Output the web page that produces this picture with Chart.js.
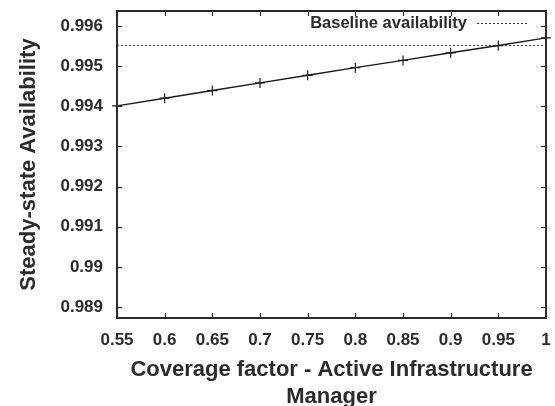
<!DOCTYPE html>
<html>
<head>
<meta charset="utf-8">
<script src="https://cdn.jsdelivr.net/npm/chart.js@4.4.1/dist/chart.umd.min.js"></script>
<style>
  html, body { margin: 0; padding: 0; background: #fff; }
  #wrap { width: 555px; height: 406px; position: relative; }
</style>
</head>
<body>
<div id="wrap"><canvas id="c"></canvas></div>
<script>
// Coverage factor of the Active Infrastructure Manager (x) and resulting availability
const coverage = [0.55, 0.6, 0.65, 0.7, 0.75, 0.8, 0.85, 0.9, 0.95, 1.0];
const availability = [0.99401, 0.99420, 0.99439, 0.99458, 0.99477, 0.99496, 0.99514, 0.99533, 0.99551, 0.99570];
const baselineAvailability = 0.99551;

const xTicks = [0.55, 0.6, 0.65, 0.7, 0.75, 0.8, 0.85, 0.9, 0.95, 1.0];
const xTickLabels = ['0.55', '0.6', '0.65', '0.7', '0.75', '0.8', '0.85', '0.9', '0.95', '1'];
const yTicks = [0.989, 0.990, 0.991, 0.992, 0.993, 0.994, 0.995, 0.996];
const yTickLabels = ['0.989', '0.99', '0.991', '0.992', '0.993', '0.994', '0.995', '0.996'];

const INK = '#2b2b2b';
const FONT = "'Liberation Sans', Arial, Helvetica, sans-serif";

// Frame around the plot with inward tick marks on all four sides
const framePlugin = {
  id: 'frame',
  afterDatasetsDraw(chart) {
    const { ctx, chartArea: a, scales } = chart;
    const len = 5;
    ctx.save();
    ctx.strokeStyle = INK;
    ctx.lineWidth = 1.2;
    ctx.beginPath();
    scales.x.ticks.forEach(t => {
      const px = Math.round(scales.x.getPixelForValue(t.value)) + 0.5;
      ctx.moveTo(px, a.bottom); ctx.lineTo(px, a.bottom - len);
      ctx.moveTo(px, a.top); ctx.lineTo(px, a.top + len);
    });
    scales.y.ticks.forEach(t => {
      const py = Math.round(scales.y.getPixelForValue(t.value)) + 0.5;
      ctx.moveTo(a.left, py); ctx.lineTo(a.left + len, py);
      ctx.moveTo(a.right, py); ctx.lineTo(a.right - len, py);
    });
    ctx.stroke();
    ctx.lineWidth = 2;
    ctx.strokeRect(a.left, a.top, a.right - a.left, a.bottom - a.top);
    ctx.restore();
  }
};

// Key in the top-right corner of the plot for the baseline dataset
const keyPlugin = {
  id: 'key',
  afterDraw(chart) {
    const { ctx, chartArea: a } = chart;
    const ds = chart.data.datasets[1];
    const y = a.top + 12;
    const x1 = a.right - 19, x0 = x1 - 50;
    ctx.save();
    ctx.font = `bold 16.5px ${FONT}`;
    ctx.fillStyle = INK;
    ctx.textAlign = 'right';
    ctx.textBaseline = 'middle';
    ctx.fillText(ds.label, x0 - 10, y);
    ctx.strokeStyle = ds.borderColor;
    ctx.lineWidth = 1;
    ctx.setLineDash(ds.borderDash);
    ctx.beginPath();
    ctx.moveTo(x0, y + 0.5); ctx.lineTo(x1, y + 0.5);
    ctx.stroke();
    ctx.restore();
  }
};

// Keep the plot box fixed: no extra room for overhanging end labels
const noEdgePadding = s => {
  s.paddingTop = 0; s.paddingBottom = 0; s.paddingLeft = 0; s.paddingRight = 0;
};

new Chart(document.getElementById('c'), {
  type: 'scatter',
  data: {
    datasets: [
      {
        label: 'Active Infrastructure Manager',
        data: coverage.map((x, i) => ({ x, y: availability[i] })),
        showLine: true,
        borderColor: '#1a1a1a',
        borderWidth: 1.4,
        pointStyle: 'cross',
        pointRadius: 5,
        pointBorderWidth: 1.2,
        pointBorderColor: '#1a1a1a',
        clip: false
      },
      {
        label: 'Baseline availability',
        data: [{ x: xTicks[0], y: baselineAvailability }, { x: xTicks[xTicks.length - 1], y: baselineAvailability }],
        showLine: true,
        borderColor: '#333',
        borderWidth: 1,
        borderDash: [2, 2],
        pointRadius: 0
      }
    ]
  },
  options: {
    responsive: true,
    maintainAspectRatio: false,
    animation: false,
    layout: { padding: { top: 11, right: 9, left: 0, bottom: 0 } },
    plugins: { legend: { display: false }, tooltip: { enabled: false } },
    scales: {
      x: {
        type: 'linear',
        min: 0.55,
        max: 1.0,
        grid: { display: false, drawTicks: false },
        border: { display: false },
        afterBuildTicks: s => { s.ticks = xTicks.map(v => ({ value: v })); },
        afterFit: s => { s.height = 88; noEdgePadding(s); },
        ticks: {
          padding: 12,
          color: INK,
          font: { family: FONT, size: 17, weight: 'bold' },
          maxRotation: 0,
          autoSkip: false,
          callback: (v, i) => xTickLabels[i]
        },
        title: {
          display: true,
          text: ['Coverage factor - Active Infrastructure', 'Manager'],
          color: INK,
          font: { family: FONT, size: 22, weight: 'bold', lineHeight: 1.2 },
          padding: { top: 0, bottom: -4 }
        }
      },
      y: {
        type: 'linear',
        min: 0.98873,
        max: 0.99637,
        grid: { display: false, drawTicks: false },
        border: { display: false },
        afterBuildTicks: s => { s.ticks = yTicks.map(v => ({ value: v })); },
        afterFit: s => { s.width = 117; noEdgePadding(s); },
        ticks: {
          padding: 14,
          color: INK,
          font: { family: FONT, size: 17, weight: 'bold' },
          autoSkip: false,
          callback: (v, i) => yTickLabels[i]
        },
        title: {
          display: true,
          text: 'Steady-state Availability',
          color: INK,
          font: { family: FONT, size: 22, weight: 'bold', lineHeight: 1.2 },
          padding: { top: 16, bottom: 0 }
        }
      }
    }
  },
  plugins: [framePlugin, keyPlugin]
});
</script>
</body>
</html>
